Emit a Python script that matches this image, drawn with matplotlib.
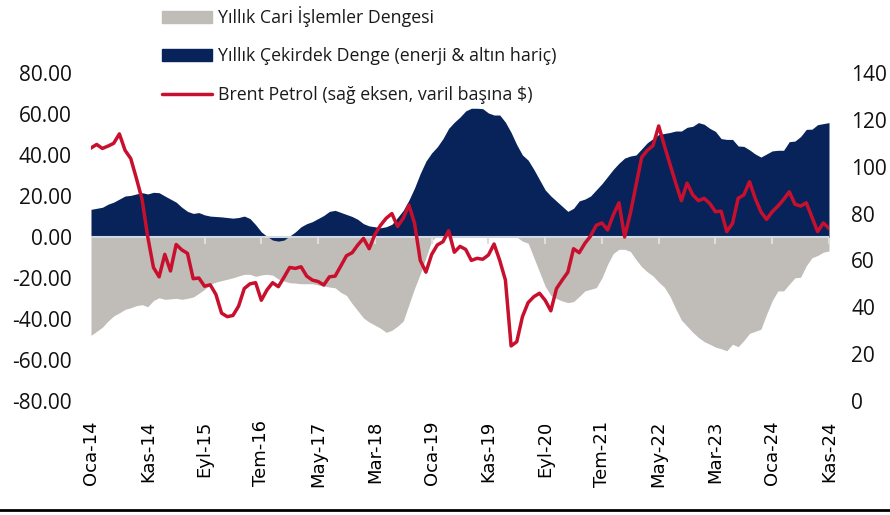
import matplotlib
matplotlib.use('agg')
import matplotlib.pyplot as plt
from matplotlib.patches import Patch
from matplotlib.lines import Line2D
import pandas as pd

# Data: monthly, Oca-14 .. Kas-24
months = pd.date_range('2014-01-01', '2024-11-01', freq='MS')
tr_months = ['Oca', 'Şub', 'Mar', 'Nis', 'May', 'Haz',
             'Tem', 'Ağu', 'Eyl', 'Eki', 'Kas', 'Ara']

# Yıllık cari işlemler dengesi (mlr $)
current_account = [
    -48.0, -46.0, -44.0, -41.0, -38.5, -37.0, -35.3, -34.5, -33.5, -33.0, -34.0, -31.0,
    -29.6, -30.4, -30.2, -29.9, -30.4, -29.9, -29.3, -27.5, -25.5, -23.1, -22.0, -21.3,
    -20.6, -19.9, -19.0, -18.2, -18.2, -19.2, -18.5, -18.2, -18.6, -20.5, -21.5, -22.3,
    -22.5, -22.8, -22.8, -22.8, -23.4, -23.9, -24.4, -24.8, -27.0, -28.5, -32.5, -36.0,
    -39.5, -41.5, -43.0, -44.5, -46.5, -45.5, -43.5, -41.0, -33.0, -25.0, -18.0, -10.0,
    -2.0, 1.0, 3.0, 4.5, 5.5, 6.0, 7.0, 7.5, 8.0, 7.5, 6.5, 6.0,
    5.0, 3.5, 1.0, 0.0, -2.0, -3.0, -10.0, -17.0, -24.0, -28.5, -30.0, -31.2,
    -32.0, -31.5, -29.0, -26.3, -25.5, -24.7, -20.0, -13.3, -8.0, -6.0, -6.0, -7.0,
    -11.0, -14.5, -17.0, -19.0, -22.0, -24.5, -29.0, -35.0, -40.5, -43.5, -46.5, -49.0,
    -51.0, -52.3, -53.7, -54.5, -55.5, -52.3, -53.5, -50.5, -47.0, -46.0, -45.0, -37.7,
    -31.0, -26.3, -26.3, -23.0, -19.9, -19.6, -14.0, -10.1, -9.0, -7.4, -6.8,
]

# Yıllık çekirdek denge (enerji & altın hariç)
core_balance = [
    13.5, 14.0, 14.5, 16.0, 17.0, 18.5, 20.0, 20.3, 21.0, 21.6, 21.0, 21.8,
    21.6, 20.0, 18.5, 17.0, 14.5, 12.5, 11.5, 11.9, 10.8, 10.2, 10.0, 9.8,
    9.5, 9.2, 9.5, 10.2, 9.0, 6.0, 2.5, 0.3, -1.5, -2.0, -1.5, 0.5,
    2.5, 5.0, 6.5, 7.5, 9.0, 10.5, 12.5, 13.0, 12.0, 11.0, 10.0, 8.6,
    6.5, 5.4, 5.0, 4.5, 5.0, 6.2, 9.5, 13.0, 18.0, 24.0, 31.0, 37.0,
    41.0, 44.0, 48.0, 53.0, 56.0, 58.5, 61.5, 62.8, 62.8, 62.6, 60.5, 59.5,
    59.5, 56.0, 51.0, 45.0, 40.0, 37.5, 33.0, 28.0, 23.0, 20.0, 17.5, 15.0,
    12.5, 14.0, 17.6, 18.5, 20.0, 23.0, 26.0, 29.5, 33.0, 36.0, 38.5, 39.5,
    40.0, 43.0, 46.0, 48.0, 50.0, 50.5, 51.0, 51.7, 51.7, 53.5, 54.0, 55.8,
    55.0, 53.0, 51.5, 48.0, 47.6, 47.6, 44.4, 44.2, 42.5, 40.5, 39.0, 40.5,
    42.0, 42.3, 42.3, 46.5, 46.8, 49.0, 52.5, 52.6, 54.8, 55.3, 55.8,
]

# Brent petrol ($/varil, sağ eksen)
brent = [
    108.0, 109.5, 107.8, 108.8, 110.0, 114.0, 107.0, 103.5, 95.0, 86.0, 70.0, 57.0,
    53.0, 62.6, 55.5, 66.8, 64.5, 63.0, 52.2, 52.5, 49.0, 49.6, 45.5, 37.5,
    36.0, 36.5, 40.5, 48.0, 50.0, 50.5, 43.0, 47.4, 50.5, 48.8, 52.8, 57.0,
    56.6, 57.3, 53.3, 51.6, 51.0, 49.5, 53.0, 53.3, 57.6, 62.0, 63.3, 66.6,
    69.4, 65.0, 71.0, 75.0, 78.0, 80.0, 74.5, 78.0, 83.6, 75.8, 60.0, 55.0,
    62.5, 66.6, 68.0, 72.7, 63.5, 66.0, 64.7, 60.0, 60.9, 60.5, 62.3, 67.0,
    60.0, 51.6, 23.5, 25.3, 36.0, 42.0, 44.5, 46.0, 43.0, 38.5, 48.0, 51.6,
    55.0, 65.0, 63.3, 67.3, 70.4, 75.0, 76.0, 73.0, 79.4, 84.6, 70.0, 80.0,
    92.0, 104.0, 107.0, 109.0, 117.4, 109.0, 101.0, 93.0, 85.5, 93.0, 88.0, 85.5,
    86.5, 84.3, 80.8, 81.0, 72.3, 75.8, 86.5, 88.0, 93.6, 86.5, 80.8, 77.5,
    80.8, 83.2, 86.0, 89.3, 84.0, 83.2, 84.6, 78.5, 72.3, 76.0, 73.7,
]

assert len(current_account) == len(core_balance) == len(brent) == len(months)

labels = ['Yıllık Cari İşlemler Dengesi',
          'Yıllık Çekirdek Denge (enerji & altın hariç)',
          'Brent Petrol (sağ eksen, varil başına $)']

GRAY = '#c0bcb7'
NAVY = '#07235a'
RED = '#c8102e'

plt.rcParams['font.family'] = ['Open Sans', 'DejaVu Sans']

x = list(range(len(months)))
tick_idx = x[::10]
tick_lbl = [f"{tr_months[months[i].month - 1]}-{months[i].year % 100:02d}" for i in tick_idx]

fig = plt.figure(figsize=(8.9, 5.15), dpi=100)
ax = fig.add_axes([91 / 890, 114 / 515, 738 / 890, 328 / 515])

ax.fill_between(x, 0, current_account, color=GRAY, lw=0, zorder=1)
ax.fill_between(x, 0, core_balance, color=NAVY, lw=0, zorder=2)
ax.axhline(0, color='#d3d9e3', lw=1.5, zorder=3)
ax.vlines(tick_idx, -3.4, 0, color='#dedede', lw=1.5, zorder=3)

ax.set_xlim(0, 130)
ax.set_ylim(-80, 80)
ax.set_yticks(range(-80, 81, 20))
ax.set_yticklabels([f"{v:.2f}" for v in range(-80, 81, 20)])
ax.set_xticks(tick_idx)
ax.set_xticklabels(tick_lbl, rotation=90, family='DejaVu Sans', fontsize=13)
ax.tick_params(axis='x', length=0, pad=14)
ax.tick_params(axis='y', length=0, pad=14, labelsize=15, labelcolor='#111111')
for s in ax.spines.values():
    s.set_visible(False)

ax2 = ax.twinx()
ax2.plot(x, brent, color=RED, lw=2.5, solid_joinstyle='round', zorder=5)
ax2.set_ylim(0, 140)
ax2.set_yticks(range(0, 141, 20))
ax2.tick_params(axis='y', length=0, pad=16, labelsize=15, labelcolor='#111111')
for s in ax2.spines.values():
    s.set_visible(False)

handles = [Patch(color=GRAY), Patch(color=NAVY),
           Line2D([], [], color=RED, lw=2.5, solid_capstyle='round')]
fig.legend(handles, labels, loc='upper left', bbox_to_anchor=(162 / 890, 1 - 6 / 515),
           frameon=False, fontsize=12.8, handlelength=2.8, handletextpad=0.35,
           labelspacing=1.15, borderpad=0, borderaxespad=0, labelcolor='#1a1a1a')

fig.add_artist(Line2D([0, 1], [5 / 515, 5 / 515], color='black', lw=2,
                      transform=fig.transFigure))

fig.savefig('out.png', dpi=100)
